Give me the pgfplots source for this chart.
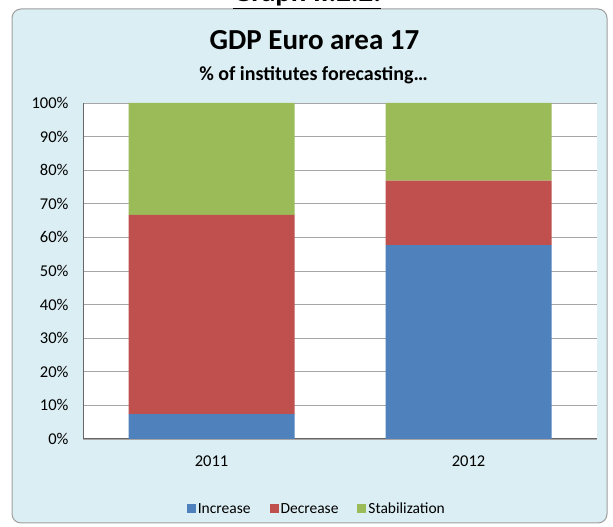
\documentclass[border=0pt]{standalone}
\usepackage{pgfplots}
\pgfplotsset{compat=1.18}
\usepackage{fontspec}
\setmainfont{Carlito}
\definecolor{incC}{HTML}{4F81BD}
\definecolor{decC}{HTML}{C0504D}
\definecolor{stbC}{HTML}{9BBB59}
\definecolor{bgC}{HTML}{DBEEF3}
\begin{document}
\begin{tikzpicture}[x=1pt,y=1pt]
\useasboundingbox (0,0) rectangle (613,527);
\clip (0,0) rectangle (613,527);
\fill[white] (0,0) rectangle (613,527);
\draw[fill=bgC, draw=gray!75, line width=1pt, rounded corners=9pt] (12,4) rectangle (607,518);
\node[font=\bfseries\fontsize{29}{33}\selectfont, anchor=base] at (307,525) {\underline{Graph II.2.2.}};
\node[font=\bfseries\fontsize{29}{33}\selectfont, anchor=base] at (314.5,477) {GDP Euro area 17};
\node[font=\bfseries\fontsize{20}{24}\selectfont, anchor=base] at (313.5,446) {\% of institutes forecasting\dots};
\begin{axis}[
  at={(83pt,88pt)}, anchor=south west,
  scale only axis, width=514pt, height=336pt,
  ybar stacked, bar width=166pt,
  xmin=-0.5, xmax=1.5, ymin=0, ymax=100,
  xtick={0,1}, xticklabels={2011,2012},
  ytick={0,10,...,100},
  yticklabel={\pgfmathprintnumber{\tick}\%},
  /pgf/number format/assume math mode=true,
  ymajorgrids, grid style={gray!70, line width=0.9pt},
  axis lines*=left,
  axis line style={-, gray!80!black, line width=1pt},
  major tick length=0pt,
  tick label style={font=\fontsize{16.5}{19}\selectfont},
  yticklabel style={xshift=-11pt},
  xticklabel style={yshift=-13pt},
  axis background/.style={fill=white},
  legend style={at={(0.455,-0.208)}, anchor=center, legend columns=3, draw=none, fill=none,
     font=\fontsize{15.5}{18}\selectfont, /tikz/every even column/.append style={column sep=17pt}},
  legend image code/.code={\fill[#1] (0pt,-4.5pt) rectangle (9pt,4.5pt);},
]
\addplot[fill=incC, draw=none] coordinates {(0,7.4) (1,57.7)};
\addplot[fill=decC, draw=none] coordinates {(0,59.3) (1,19.2)};
\addplot[fill=stbC, draw=none] coordinates {(0,33.3) (1,23.1)};
\legend{Increase,Decrease,Stabilization}
\end{axis}
\end{tikzpicture}
\end{document}
